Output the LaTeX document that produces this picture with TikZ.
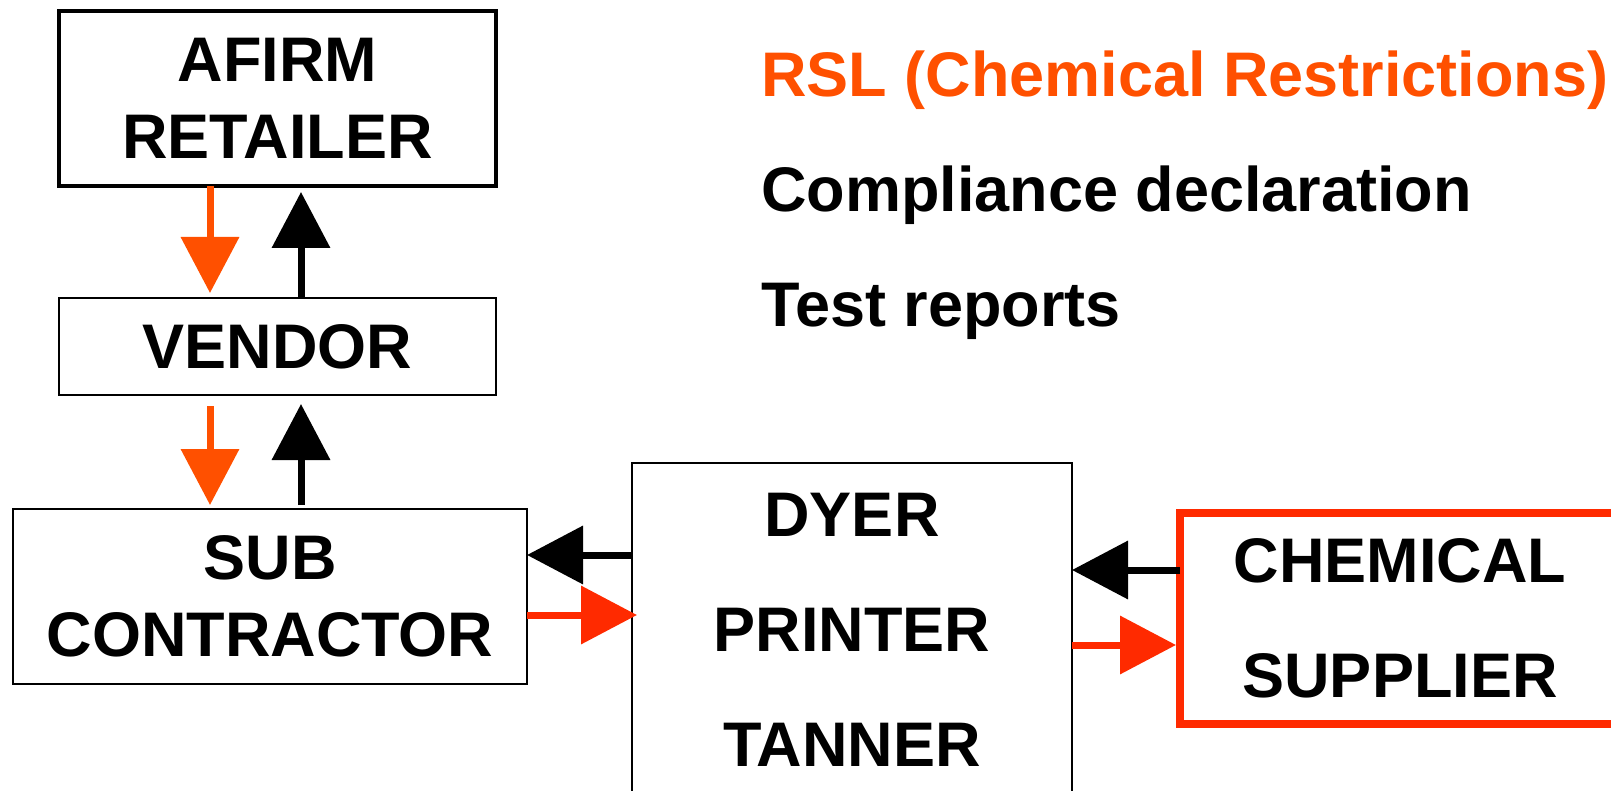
\documentclass[tikz,border=0pt]{standalone}
\usepackage{fontspec}
\setmainfont{Liberation Sans}
\usetikzlibrary{arrows.meta,positioning}

\definecolor{rslorange}{HTML}{FF5000}
\definecolor{chemred}{HTML}{FF2A00}

\tikzset{
  box/.style={draw, rectangle, outer sep=0pt, inner sep=0pt, line width=2.5pt,
    align=center, font=\bfseries\fontsize{63}{77}\selectfont},
  bigarr/.style={-{Triangle[length=56pt,width=57pt]}, line width=7pt},
  sidetext/.style={anchor=base west, inner sep=0pt, font=\bfseries\fontsize{63}{75}\selectfont},
}

\begin{document}
\begin{tikzpicture}[x=1pt,y=-1pt]
  \clip (0,0) rectangle (1611,791);

  % Supply chain boxes
  \node[box, line width=4.5pt, minimum width=437pt, minimum height=175pt] (afirm) at (277.5,98.5) {AFIRM\\RETAILER};
  \node[box, minimum width=437pt, minimum height=97pt] (vendor) at (277.5,346.5) {VENDOR};
  \node[box, minimum width=514pt, minimum height=175pt] (sub) at (270,596.5) {SUB\\CONTRACTOR};
  \node[box, font=\bfseries\fontsize{63}{115}\selectfont, minimum width=440pt, minimum height=333pt] (dyer) at (852,629.5) {DYER\\PRINTER\\TANNER};
  \node[box, draw=chemred, line width=7.5pt, font=\bfseries\fontsize{63}{115}\selectfont, minimum width=440pt, minimum height=211pt] (chem) at (1400,618.5) {CHEMICAL\\SUPPLIER};

  % Legend
  \node[sidetext, text=rslorange] (rsl) at (761,97) {RSL (Chemical Restrictions)};
  \node[sidetext] (decl) at (761,212) {Compliance declaration};
  \node[sidetext] (tests) at (761,327) {Test reports};

  % Down the chain (restrictions) and back up (declarations)
  \draw[bigarr, rslorange, shorten >=5pt] (afirm.south -| 210,0) -- (vendor.north -| 210,0);
  \draw[bigarr, shorten >=6pt] (vendor.north -| 301,0) -- (afirm.south -| 301,0);
  \draw[bigarr, rslorange, shorten <=11pt, shorten >=4pt] (vendor.south -| 210,0) -- (sub.north -| 210,0);
  \draw[bigarr, shorten <=4pt, shorten >=9pt] (sub.north -| 301,0) -- (vendor.south -| 301,0);

  % Sideways links
  \draw[bigarr] (dyer.west |- 0,555) -- (sub.east |- 0,555);
  \draw[bigarr, chemred, shorten >=-5pt] (sub.east |- 0,615) -- (dyer.west |- 0,615);
  \draw[bigarr] (chem.west |- 0,570) -- (dyer.east |- 0,570);
  \draw[bigarr, chemred, shorten >=4pt] (dyer.east |- 0,645) -- (chem.west |- 0,645);
\end{tikzpicture}
\end{document}
